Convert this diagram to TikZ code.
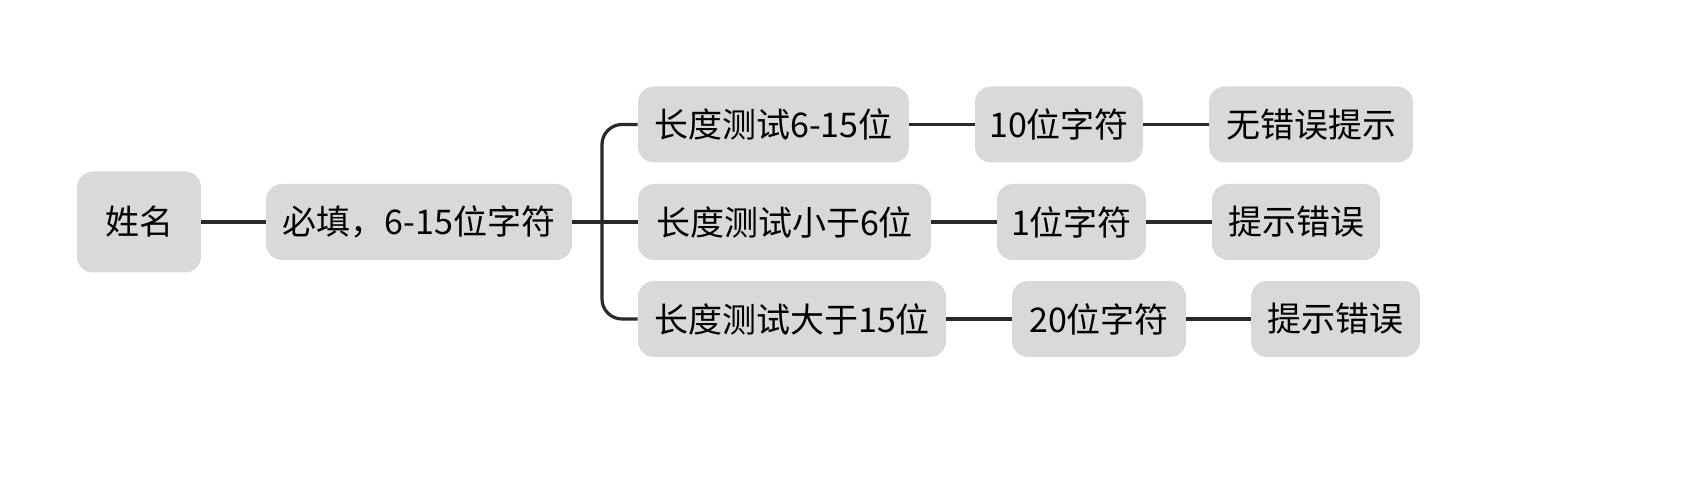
\documentclass[tikz,border=0pt]{standalone}
\usepackage{fontspec}
\setmainfont{Noto Sans CJK SC}
\usetikzlibrary{positioning}
\tikzset{
    topic/.style={fill=boxgray, rounded corners=8pt, font=\fontsize{17}{19}\selectfont,
        inner sep=0pt, minimum height=38pt},
    link/.style={draw=linegray, line width=1.6pt},
}
\definecolor{boxgray}{HTML}{D9D9D9}
\definecolor{linegray}{HTML}{2A2A2A}
\begin{document}
\begin{tikzpicture}[x=0.5pt, y=-0.5pt]
	\useasboundingbox (0,0) rectangle (1698,491);
	\node[topic, minimum width=62pt, minimum height=50.5pt] (name) at (139,222) {姓名};
	\node[topic, minimum width=153pt] (must) at (419,222) {必填，6-15位字符};
	% first row
	\node[topic, minimum width=135.5pt] (lenok) at (773.5,124.5) {长度测试6-15位};
	\node[topic, minimum width=84pt] (ten) at (1059,124.5) {10位字符};
	\node[topic, minimum width=102pt] (noerr) at (1311,124.5) {无错误提示};
	% second row
	\node[topic, minimum width=146.5pt] (lenlow) at (784.5,222) {长度测试小于6位};
	\node[topic, minimum width=74.5pt] (one) at (1071.5,222) {1位字符};
	\node[topic, minimum width=84pt] (errlow) at (1296,222) {提示错误};
	% third row
	\node[topic, minimum width=154pt] (lenhigh) at (792,319) {长度测试大于15位};
	\node[topic, minimum width=87pt] (twenty) at (1099,319) {20位字符};
	\node[topic, minimum width=84.5pt] (errhigh) at (1335.5,319) {提示错误};
	\coordinate (fork) at (602,222);
	\draw[link] (name) -- (must);
	\draw[link] (must) -- (fork);
	\draw[link, rounded corners=10pt] (fork) |- (lenok.west);
	\draw[link] (fork) -- (lenlow.west);
	\draw[link, rounded corners=10pt] (fork) |- (lenhigh.west);
	\draw[link] (lenok) -- (ten);
	\draw[link] (ten) -- (noerr);
	\draw[link] (lenlow) -- (one);
	\draw[link] (one) -- (errlow);
	\draw[link] (lenhigh) -- (twenty);
	\draw[link] (twenty) -- (errhigh);
\end{tikzpicture}
\end{document}
